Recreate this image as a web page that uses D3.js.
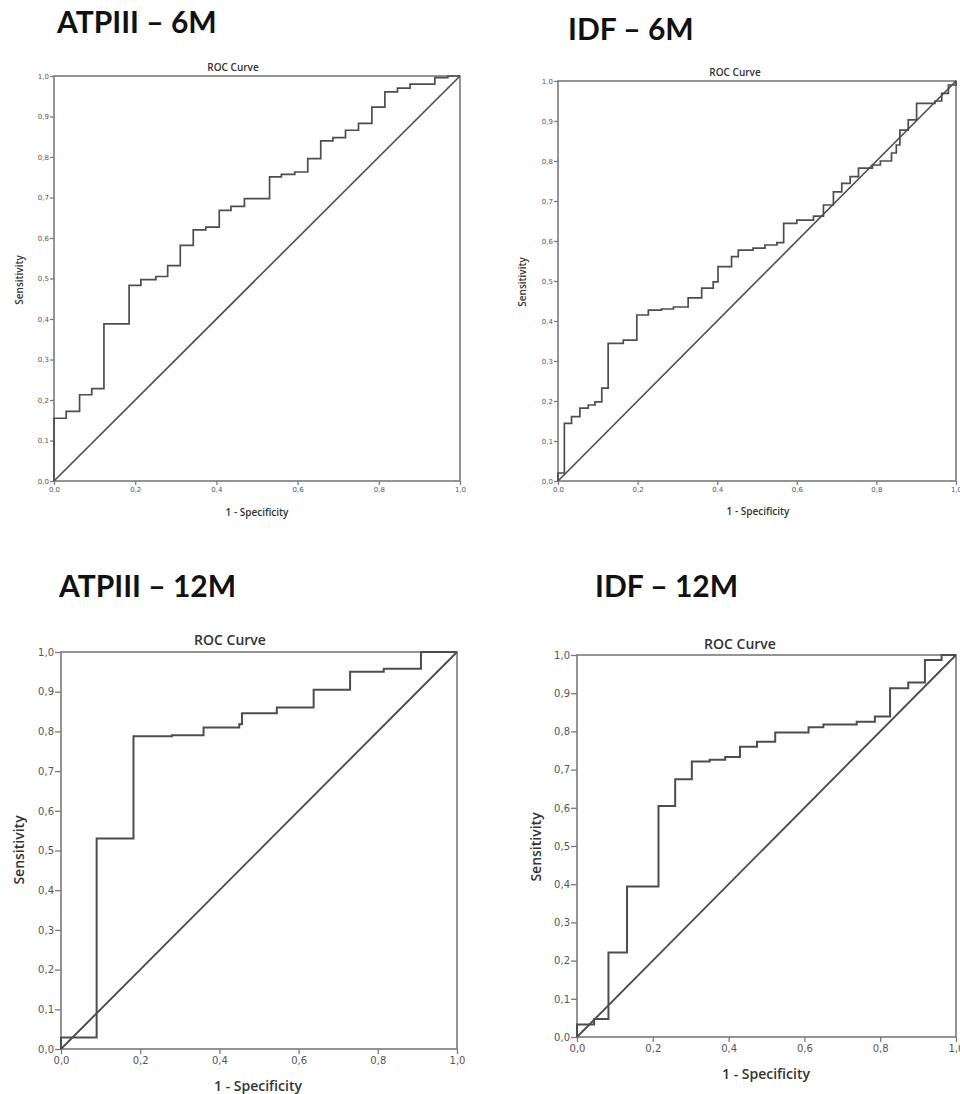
<!DOCTYPE html>
<html>
<head>
<meta charset="utf-8">
<script src="https://cdn.jsdelivr.net/npm/d3@7/dist/d3.min.js"></script>
<style>
  body { margin: 0; background: #fff; }
  svg { display: block; }
</style>
</head>
<body>
<svg id="chart" width="960" height="1094"></svg>
<script>
// axis ticks, shared by every panel
var tickValues = [0, 0.1, 0.2, 0.3, 0.4, 0.5, 0.6, 0.7, 0.8, 0.9, 1.0]
var yTickLabels = ["0,0", "0,1", "0,2", "0,3", "0,4", "0,5", "0,6", "0,7", "0,8", "0,9", "1,0"]
var xTickValues = [0, 0.2, 0.4, 0.6, 0.8, 1.0]
var xTickLabels = ["0,0", "0,2", "0,4", "0,6", "0,8", "1,0"]

var headings = ["ATPIII – 6M", "IDF – 6M", "ATPIII – 12M", "IDF – 12M"]

// ROC steps: 1 - specificity where the curve rises, sensitivity after the rise
var atp6Fpr = [0, 0, 0.03, 0.063, 0.093, 0.123, 0.185, 0.214, 0.251, 0.28, 0.311, 0.343, 0.374, 0.407, 0.436, 0.469, 0.531, 0.56, 0.593, 0.625, 0.657, 0.687, 0.718, 0.75, 0.783, 0.815, 0.846, 0.877, 0.938, 0.97, 1]
var atp6Tpr = [0, 0.155, 0.172, 0.213, 0.228, 0.388, 0.483, 0.497, 0.505, 0.532, 0.582, 0.62, 0.627, 0.668, 0.678, 0.697, 0.751, 0.757, 0.763, 0.796, 0.84, 0.848, 0.866, 0.883, 0.923, 0.961, 0.97, 0.98, 0.996, 1, 1]

var idf6Fpr = [0, 0, 0.016, 0.034, 0.055, 0.076, 0.093, 0.11, 0.126, 0.164, 0.198, 0.227, 0.26, 0.29, 0.327, 0.361, 0.39, 0.402, 0.436, 0.453, 0.49, 0.52, 0.55, 0.567, 0.6, 0.642, 0.667, 0.692, 0.713, 0.734, 0.755, 0.79, 0.81, 0.838, 0.85, 0.859, 0.88, 0.901, 0.947, 0.964, 0.981, 1]
var idf6Tpr = [0, 0.02, 0.144, 0.161, 0.182, 0.19, 0.198, 0.232, 0.344, 0.352, 0.415, 0.427, 0.43, 0.435, 0.458, 0.482, 0.498, 0.536, 0.561, 0.577, 0.582, 0.59, 0.596, 0.644, 0.652, 0.662, 0.69, 0.723, 0.744, 0.761, 0.782, 0.79, 0.8, 0.82, 0.84, 0.877, 0.903, 0.944, 0.95, 0.969, 0.99, 1]

var atp12Fpr = [0, 0, 0.09, 0.183, 0.28, 0.36, 0.45, 0.457, 0.545, 0.638, 0.73, 0.815, 0.909, 1]
var atp12Tpr = [0, 0.029, 0.53, 0.788, 0.79, 0.81, 0.818, 0.846, 0.86, 0.905, 0.95, 0.958, 1, 1]

var idf12Fpr = [0, 0, 0.045, 0.083, 0.132, 0.215, 0.259, 0.303, 0.35, 0.391, 0.43, 0.475, 0.523, 0.611, 0.65, 0.738, 0.786, 0.826, 0.874, 0.918, 0.962, 1]
var idf12Tpr = [0, 0.033, 0.047, 0.221, 0.394, 0.605, 0.675, 0.721, 0.726, 0.733, 0.76, 0.773, 0.797, 0.811, 0.818, 0.825, 0.839, 0.913, 0.928, 0.987, 1, 1]

// reference line
var diagonal = [0, 1]

// where each panel sits on the page
var layout = [
    {fpr: atp6Fpr, tpr: atp6Tpr, left: 54, right: 460, top: 76, bottom: 481, head: [57, 33],
     titleX: 233, titleY: 71, xLabelX: 257, xLabelY: 516, yLabelX: 23, yLabelY: 280, big: false},
    {fpr: idf6Fpr, tpr: idf6Tpr, left: 558, right: 956, top: 81, bottom: 481, head: [568, 40],
     titleX: 735, titleY: 76, xLabelX: 758, xLabelY: 515, yLabelX: 526, yLabelY: 282, big: false},
    {fpr: atp12Fpr, tpr: atp12Tpr, left: 61, right: 457, top: 652, bottom: 1049, head: [59, 597],
     titleX: 230, titleY: 645, xLabelX: 258, xLabelY: 1091, yLabelX: 24, yLabelY: 850, big: true},
    {fpr: idf12Fpr, tpr: idf12Tpr, left: 577, right: 956, top: 655, bottom: 1037, head: [595, 597],
     titleX: 740, titleY: 649, xLabelX: 766, xLabelY: 1079, yLabelX: 541, yLabelY: 847, big: true}
]

var svg = d3.select("#chart")
var lineColor = "#4d4d4d"
var frameColor = "#7a7a7a"

layout.forEach(function(p, i) {
    var x = d3.scaleLinear().domain([0, 1]).range([p.left, p.right])
    var y = d3.scaleLinear().domain([0, 1]).range([p.bottom, p.top])
    var tickFont = p.big ? 10 : 7
    var labelFont = p.big ? 14 : 10
    var strokeW = p.big ? 2 : 1.7

    var g = svg.append("g")

    // big heading above the panel
    g.append("text")
        .attr("x", p.head[0])
        .attr("y", p.head[1])
        .text(headings[i])
        .style("font-family", "Lato, 'Open Sans', sans-serif")
        .style("font-weight", "bold")
        .style("font-size", "30px")
        .style("fill", "#111")

    // axes
    var yAxis = d3.axisLeft(y)
        .tickValues(tickValues)
        .tickFormat(function(d, k) { return yTickLabels[k] })
        .tickSize(p.big ? 6 : 4)
        .tickPadding(1)
    var xAxis = d3.axisBottom(x)
        .tickValues(xTickValues)
        .tickFormat(function(d, k) { return xTickLabels[k] })
        .tickSize(p.big ? 5 : 4)
        .tickPadding(p.big ? 3 : 2)

    var ya = g.append("g").attr("transform", "translate(" + p.left + ",0)").call(yAxis)
    var xa = g.append("g").attr("transform", "translate(0," + p.bottom + ")").call(xAxis)
    ;[ya, xa].forEach(function(a) {
        a.select(".domain").remove()
        a.selectAll("line").attr("stroke", frameColor).attr("stroke-width", 1.3)
        a.selectAll("text")
            .style("font-family", "'DejaVu Sans', sans-serif")
            .style("font-size", tickFont + "px")
            .style("fill", "#555")
    })

    // plot frame
    g.append("rect")
        .attr("x", x(0))
        .attr("y", y(1))
        .attr("width", x(1) - x(0))
        .attr("height", y(0) - y(1))
        .attr("fill", "none")
        .attr("stroke", frameColor)
        .attr("stroke-width", 1.6)

    // diagonal reference
    g.append("line")
        .attr("x1", x(diagonal[0])).attr("y1", y(diagonal[0]))
        .attr("x2", x(diagonal[1])).attr("y2", y(diagonal[1]))
        .attr("stroke", lineColor)
        .attr("stroke-width", strokeW - 0.1)

    // ROC curve
    var pts = p.fpr.map(function(v, k) { return [v, p.tpr[k]] })
    var line = d3.line()
        .x(function(d) { return x(d[0]) })
        .y(function(d) { return y(d[1]) })
        .curve(d3.curveStepAfter)
    g.append("path")
        .attr("d", line(pts))
        .attr("fill", "none")
        .attr("stroke", lineColor)
        .attr("stroke-width", strokeW)

    // titles
    g.append("text")
        .attr("x", p.titleX)
        .attr("y", p.titleY)
        .attr("text-anchor", "middle")
        .text("ROC Curve")
        .style("font-family", "'Open Sans', sans-serif")
        .style("font-weight", "600")
        .style("font-size", labelFont + "px")
        .style("fill", "#333")

    g.append("text")
        .attr("x", p.xLabelX)
        .attr("y", p.xLabelY)
        .attr("text-anchor", "middle")
        .text("1 - Specificity")
        .style("font-family", "'Open Sans', sans-serif")
        .style("font-weight", "600")
        .style("font-size", labelFont + "px")
        .style("fill", "#333")

    g.append("text")
        .attr("transform", "translate(" + p.yLabelX + "," + p.yLabelY + ") rotate(-90)")
        .attr("text-anchor", "middle")
        .text("Sensitivity")
        .style("font-family", "'Open Sans', sans-serif")
        .style("font-weight", "600")
        .style("font-size", labelFont + "px")
        .style("fill", "#333")
})
</script>
</body>
</html>
